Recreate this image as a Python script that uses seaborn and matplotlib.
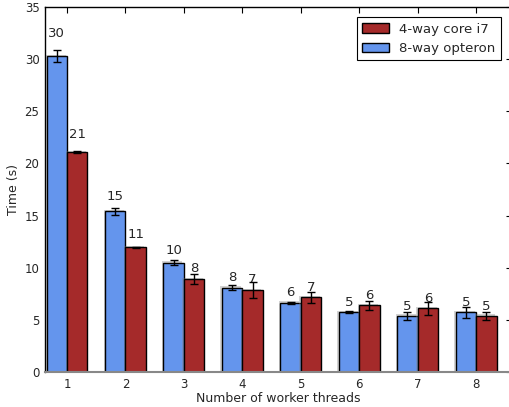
import matplotlib
matplotlib.use("Agg")
import matplotlib.pyplot as plt
import matplotlib.patheffects as pe
from matplotlib.patches import Patch
import seaborn as sns
import pandas as pd
import numpy as np

threads = ["1", "2", "3", "4", "5", "6", "7", "8"]
opteron_time = [30.3, 15.4, 10.5, 8.08, 6.65, 5.72, 5.4, 5.72]
opteron_err = [0.6, 0.3, 0.2, 0.25, 0.1, 0.1, 0.4, 0.5]
i7_time = [21.1, 11.95, 8.9, 7.86, 7.16, 6.39, 6.1, 5.4]
i7_err = [0.1, 0.05, 0.45, 0.75, 0.5, 0.4, 0.6, 0.4]
series_names = ["8-way opteron", "4-way core i7"]
colors = {"8-way opteron": "cornflowerblue", "4-way core i7": "brown"}

df = pd.DataFrame({
    "threads": threads * 2,
    "time": opteron_time + i7_time,
    "machine": [series_names[0]] * 8 + [series_names[1]] * 8,
})
errs = {series_names[0]: opteron_err, series_names[1]: i7_err}
vals = {series_names[0]: opteron_time, series_names[1]: i7_time}

sns.set_style("white")
plt.rcParams["font.family"] = ["DejaVu Sans"]

fig = plt.figure(figsize=(5.1, 4.07), dpi=100)
ax = fig.add_axes([45 / 510, 1 - 372 / 407, (512 - 45) / 510, (372 - 7) / 407])

sns.barplot(data=df, x="threads", y="time", hue="machine", hue_order=series_names,
            order=threads, palette=colors, width=0.7, errorbar=None, saturation=1,
            edgecolor="black", linewidth=1, legend=False, ax=ax)

for cont, name in zip(ax.containers, series_names):
    for bar, v, e in zip(cont, vals[name], errs[name]):
        bar.set_path_effects([pe.SimplePatchShadow(offset=(-1, 1), shadow_rgbFace="gray", alpha=0.35),
                              pe.Normal()])
        cx = bar.get_x() + bar.get_width() / 2
        ax.errorbar(cx, v, yerr=e, fmt="none", ecolor="black", elinewidth=1,
                    capsize=3, capthick=1, zorder=5)
        ax.text(cx, 1.05 * v, "%d" % int(v), ha="center", va="bottom", fontsize=9.5)

ax.set_xlim(-0.376, 7.615)
ax.set_ylim(0, 35)
ax.set_yticks(range(0, 36, 5))
ax.set_xlabel("Number of worker threads", fontsize=9, labelpad=1)
ax.set_ylabel("Time (s)", fontsize=9, labelpad=3)
ax.tick_params(direction="in", length=4, width=0.8, top=True, right=True,
               labelsize=8.5, pad=4, color="black")
for s in ax.spines.values():
    s.set_visible(True)
    s.set_color("black")
    s.set_linewidth(1)
ax.spines["bottom"].set_color("#888888")
ax.spines["bottom"].set_linewidth(1.5)

handles = [Patch(facecolor="brown", edgecolor="black", label="4-way core i7"),
           Patch(facecolor="cornflowerblue", edgecolor="black", label="8-way opteron")]
leg = ax.legend(handles=handles, loc="upper right", fontsize=9.5, fancybox=False,
                edgecolor="black", framealpha=1, borderaxespad=0.5,
                bbox_to_anchor=(0.99, 0.99))
leg.get_frame().set_linewidth(0.8)

fig.savefig("out.png", dpi=100)
